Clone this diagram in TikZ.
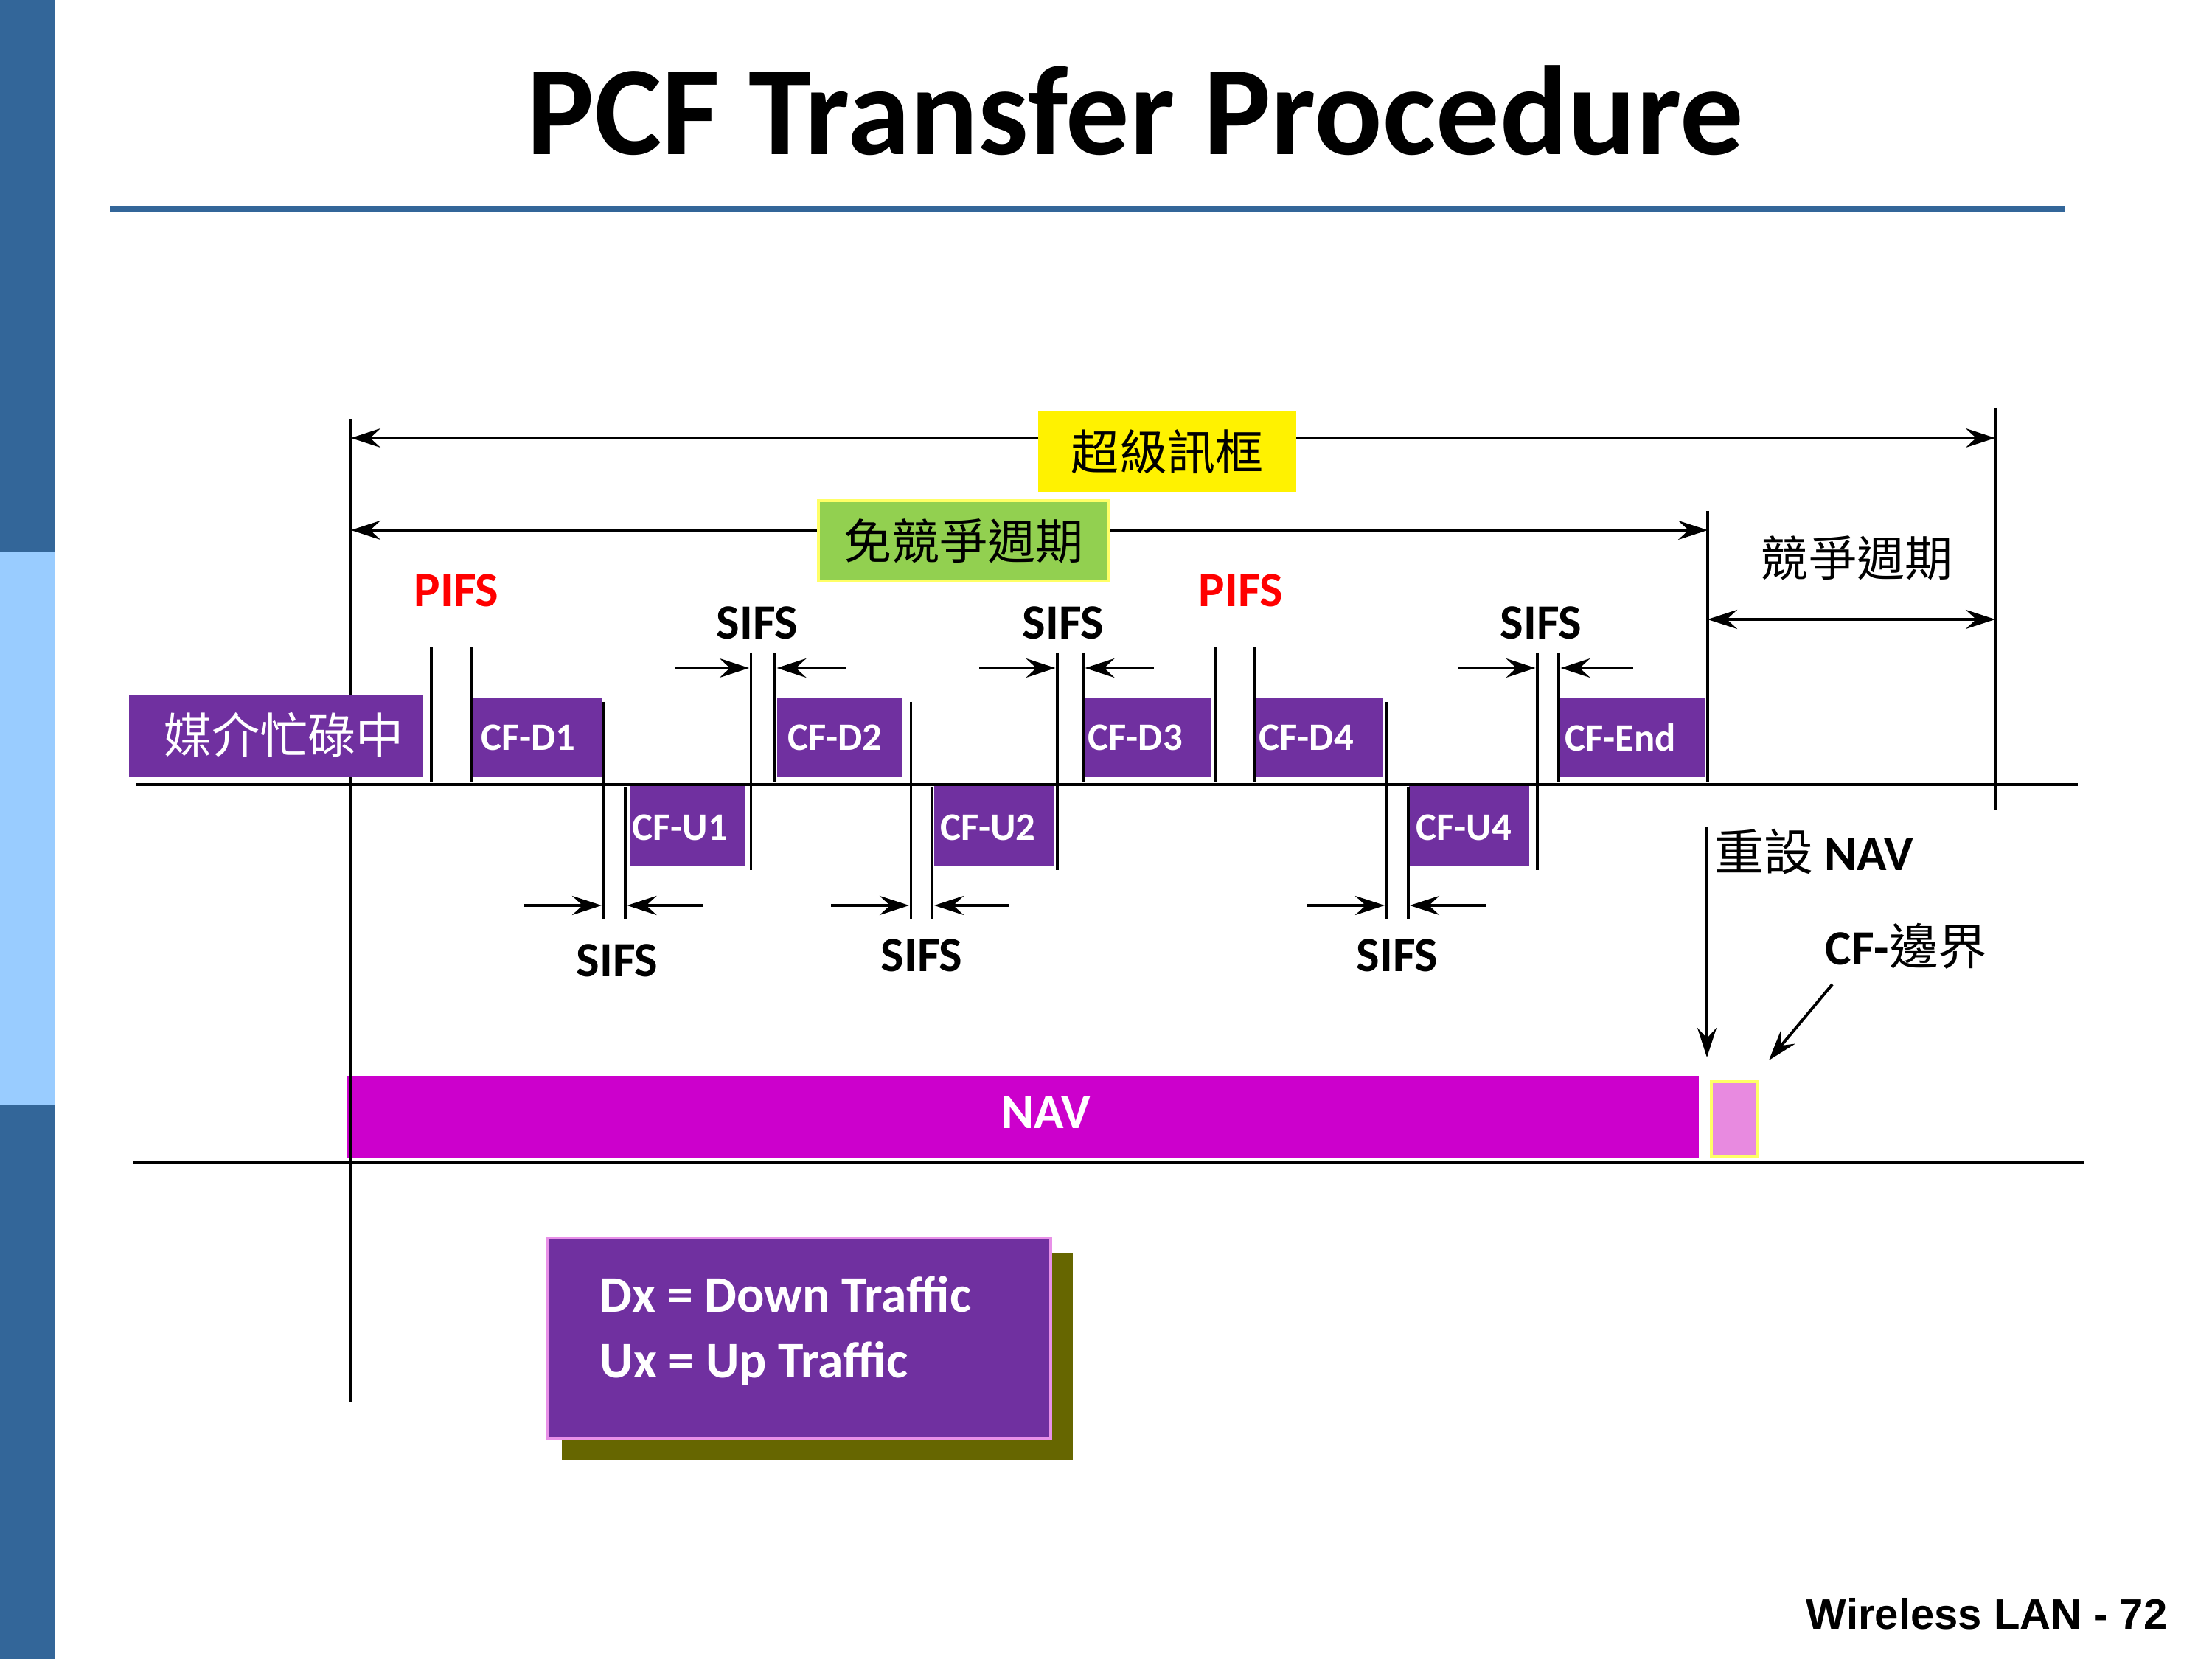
\documentclass[tikz,border=0pt]{standalone}
\usepackage{fontspec}
\setmainfont{Carlito}
\newfontfamily\cjk{Noto Sans CJK TC}
\newfontfamily\footfont{Liberation Sans}
\usetikzlibrary{arrows.meta}

\definecolor{slideblue}{HTML}{336699}
\definecolor{slidelight}{HTML}{99CCFF}
\definecolor{framepurple}{HTML}{7030A0}
\definecolor{navmagenta}{HTML}{CC00CC}
\definecolor{cfpink}{HTML}{E88AE0}
\definecolor{paleyellow}{HTML}{FFFF66}
\definecolor{cfpgreen}{HTML}{92D050}
\definecolor{legendborder}{HTML}{E890E8}
\definecolor{shadowolive}{HTML}{666600}

\begin{document}
\begin{tikzpicture}[
  every node/.style={inner sep=0pt},
  rule/.style={line width=1.1pt},
  span/.style={rule, {Stealth[length=4mm,width=2.6mm,inset=1.4mm]}-{Stealth[length=4mm,width=2.6mm,inset=1.4mm]}},
  gap/.style={rule, -{Stealth[length=4mm,width=2.6mm,inset=1.4mm]}},
  gaplabel/.style={font=\fontsize{19}{22}\selectfont\bfseries},
  framebox/.style={fill=framepurple},
  framelabel/.style={font=\fontsize{15}{18}\selectfont\bfseries, text=white, anchor=west},
  cjklabel/.style={font=\fontsize{18.5}{22}\selectfont\cjk},
]
\useasboundingbox (0,0) rectangle (30,-22.5);
\fill[white] (0,0) rectangle (30,-22.5);

% slide frame
\fill[slideblue] (0,0) rectangle (0.75,-7.48);
\fill[slidelight] (0,-7.48) rectangle (0.75,-14.98);
\fill[slideblue] (0,-14.98) rectangle (0.75,-22.5);
\node[anchor=base, font=\fontsize{49}{58}\selectfont\bfseries] (title) at (15.40,-2.10) {PCF Transfer Procedure};
\draw[slideblue, line width=2.3pt] (1.49,-2.83) -- (28.01,-2.83);

% period arrows
\coordinate (sfL) at (4.76,-5.94);   \coordinate (sfR) at (27.06,-5.94);
\coordinate (cfpL) at (4.76,-7.19);  \coordinate (cfpR) at (23.16,-7.19);
\coordinate (cpL) at (23.16,-8.40);  \coordinate (cpR) at (27.06,-8.40);
\draw[span] (sfL) -- (sfR);
\draw[span] (cfpL) -- (cfpR);
\draw[span] (cpL) -- (cpR);
\node[fill=yellow, minimum width=3.50cm, minimum height=1.09cm, cjklabel] (superframe) at (15.83,-6.125) {超級訊框};
\node[fill=cfpgreen, draw=paleyellow, line width=1.3pt, minimum width=3.94cm, minimum height=1.09cm, cjklabel] (cfperiod) at (13.07,-7.335) {免競爭週期};
\node[cjklabel] (cperiod) at (25.18,-7.57) {競爭週期};

% time lines
\draw[rule] (1.84,-10.64) -- (28.18,-10.64);
\draw[rule] (1.80,-15.76) -- (28.27,-15.76);
\draw[rule] (27.06,-5.53) -- (27.06,-10.98);
\draw[rule] (23.16,-6.93) -- (23.16,-10.60);

% NAV
\fill[navmagenta] (4.70,-14.585) rectangle (23.04,-15.70);
\node[font=\fontsize{19}{22}\selectfont\bfseries, text=white] (nav) at (14.19,-15.09) {NAV};
\filldraw[fill=cfpink, draw=paleyellow, line width=1.2pt] (23.21,-14.67) rectangle (23.835,-15.68);
\draw[rule] (4.76,-5.68) -- (4.76,-19.02);

% busy medium
\fill[framebox] (1.75,-9.42) rectangle (5.74,-10.54);
\node[cjklabel, text=white] (busy) at (3.85,-9.97) {媒介忙碌中};

% downlink frames
\foreach \xa/\xb/\xt/\nm/\txt in {6.37/8.16/6.515/d1/CF-D1, 10.535/12.23/10.675/d2/CF-D2,
    14.70/16.42/14.75/d3/CF-D3, 17.00/18.745/17.07/d4/CF-D4, 21.155/23.13/21.215/cfend/CF-End} {
  \fill[framebox] (\xa,-9.46) rectangle (\xb,-10.54);
  \node[framelabel] (\nm) at (\xt,-10.0) {\txt};
}
% uplink frames
\foreach \xa/\xb/\xt/\nm/\txt in {8.55/10.11/8.57/u1/CF-U1, 12.67/14.29/12.745/u2/CF-U2, 19.11/20.74/19.20/u4/CF-U4} {
  \fill[framebox] (\xa,-10.665) rectangle (\xb,-11.74);
  \node[framelabel] (\nm) at (\xt,-11.22) {\txt};
}

% interframe space marks
\foreach \x in {5.85, 6.39, 16.48, 17.015}
  \draw[rule] (\x,-8.78) -- (\x,-10.60);
\foreach \x in {8.185, 12.355, 18.806}
  \draw[rule] (\x,-9.52) -- (\x,-12.47);
\foreach \x in {8.48, 12.645, 19.097}
  \draw[rule] (\x,-10.68) -- (\x,-12.47);
\foreach \x in {10.185, 14.34, 20.85}
  \draw[rule] (\x,-8.85) -- (\x,-11.80);
\foreach \x in {10.51, 14.69, 21.14}
  \draw[rule] (\x,-8.85) -- (\x,-10.60);

\foreach \n/\xa/\xb/\y in {a/9.15/10.16/-9.06, b/11.475/10.535/-9.06, c/13.28/14.315/-9.06, d/15.645/14.715/-9.06,
    e/19.78/20.825/-9.06, f/22.15/21.165/-9.06, g/7.10/8.16/-12.28, h/9.53/8.505/-12.28,
    i/11.27/12.33/-12.28, j/13.68/12.67/-12.28, k/17.72/18.78/-12.28, l/20.145/19.12/-12.28} {
  \coordinate (from\n) at (\xa,\y);
  \coordinate (to\n) at (\xb,\y);
  \draw[gap] (from\n) -- (to\n);
}

\node[gaplabel, text=red] (pifsA) at (6.19,-8.01) {PIFS};
\node[gaplabel, text=red] (pifsB) at (16.83,-8.01) {PIFS};
\node[gaplabel] (sifsA) at (10.27,-8.45) {SIFS};
\node[gaplabel] (sifsB) at (14.42,-8.45) {SIFS};
\node[gaplabel] (sifsC) at (20.90,-8.45) {SIFS};
\node[gaplabel] (sifsD) at (8.37,-13.03) {SIFS};
\node[gaplabel] (sifsE) at (12.50,-12.96) {SIFS};
\node[gaplabel] (sifsF) at (18.95,-12.96) {SIFS};

\node[anchor=base west, font=\fontsize{19}{22}\selectfont\bfseries] (reset) at (23.25,-11.80) {{\cjk\mdseries 重設} NAV};
\node[anchor=base west, font=\fontsize{19}{22}\selectfont\bfseries] (cfb) at (24.75,-13.08) {CF-{\cjk\mdseries 邊界}};
\coordinate (resetTop) at (23.15,-11.22);
\coordinate (resetTip) at (23.15,-14.34);
\draw[gap] (resetTop) -- (resetTip);
\coordinate (cfbFrom) at (24.85,-13.35);
\coordinate (cfbTip) at (23.99,-14.38);
\draw[gap] (cfbFrom) -- (cfbTip);

% legend
\fill[shadowolive] (7.62,-16.99) rectangle (14.546,-19.795);
\filldraw[fill=framepurple, draw=legendborder, line width=1.4pt] (7.42,-16.79) rectangle (14.25,-19.51);
\node[anchor=base west, text=white, font=\fontsize{19.8}{23}\selectfont\bfseries] (dx) at (8.13,-17.79) {Dx = Down Traffic};
\node[anchor=base west, text=white, font=\fontsize{19.8}{23}\selectfont\bfseries] (ux) at (8.13,-18.68) {Ux = Up Traffic};

\node[anchor=base east, font=\footfont\bfseries\fontsize{16.5}{20}\selectfont] (footer) at (29.40,-22.09) {Wireless LAN - 72};
\end{tikzpicture}
\end{document}
